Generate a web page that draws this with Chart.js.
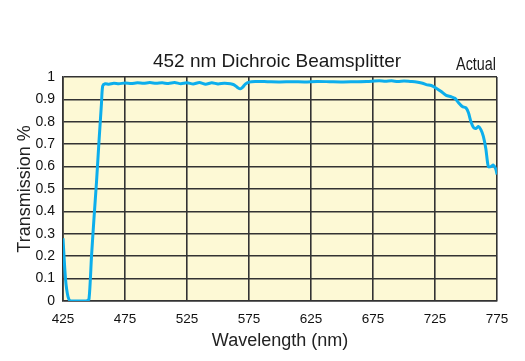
<!DOCTYPE html>
<html><head><meta charset="utf-8">
<script src="https://cdn.jsdelivr.net/npm/chart.js@4/dist/chart.umd.min.js"></script>
<style>html,body{margin:0;padding:0;background:#fff;}canvas{display:block;}</style>
</head><body>
<canvas id="c" width="525" height="361"></canvas>
<script>
const titleText = "452 nm Dichroic Beamsplitter";
const noteText = "Actual";
const xTitle = "Wavelength (nm)";
const yTitle = "Transmission %";
const wavelengths = [425,427,429,431,435,440,444,446,448,450,452,454,456,457,459,462,466,470,475,480,485,490,495,500,505,510,515,520,525,530,535,540,545,550,555,560,563,566,568,570,572,575,580,590,600,610,620,630,640,650,660,670,680,685,690,695,700,705,710,715,718,722,726,730,734,738,741,744,747,750,752,754,756,758,760,762,764,766,768,770,772,774,775];
const transmission = [0.28,0.1,0.02,0,0,0,0,0.01,0.2,0.37,0.53,0.71,0.88,0.96,0.97,0.968,0.972,0.97,0.973,0.971,0.974,0.972,0.975,0.972,0.974,0.971,0.975,0.97,0.974,0.969,0.975,0.968,0.974,0.969,0.972,0.97,0.965,0.952,0.947,0.955,0.968,0.977,0.98,0.979,0.978,0.979,0.978,0.98,0.979,0.978,0.979,0.98,0.983,0.981,0.983,0.98,0.982,0.98,0.978,0.972,0.966,0.962,0.95,0.935,0.918,0.912,0.905,0.885,0.868,0.862,0.84,0.8,0.775,0.77,0.779,0.765,0.735,0.68,0.6,0.6,0.607,0.59,0.565];
const xTicks = [425,475,525,575,625,675,725,775];

const FONT = "'Liberation Sans', Arial, Helvetica, sans-serif";
const bgPlugin = {
  id: 'bg',
  beforeDraw(chart) {
    const {ctx, chartArea: a} = chart;
    ctx.save();
    ctx.fillStyle = '#FDF9D5';
    ctx.fillRect(a.left, a.top, a.right - a.left, a.bottom - a.top);
    ctx.restore();
  },
  afterDraw(chart) {
    const {ctx} = chart;
    ctx.save();
    ctx.fillStyle = '#1a1a1a';
    ctx.textBaseline = 'alphabetic';
    ctx.textAlign = 'center';
    ctx.font = "19px " + FONT;
    ctx.fillText(titleText, 277, 66.5);
    ctx.font = "17.5px " + FONT;
    ctx.translate(496, 69.5);
    ctx.scale(0.82, 1);
    ctx.textAlign = 'right';
    ctx.fillText(noteText, 0, 0);
    ctx.restore();
  }
};

new Chart(document.getElementById('c'), {
  type: 'line',
  data: {
    datasets: [{
      data: wavelengths.map((w, i) => ({x: w, y: transmission[i]})),
      borderColor: '#0CAEEC',
      borderWidth: 3,
      pointRadius: 0,
      tension: 0.25,
      fill: false
    }]
  },
  options: {
    responsive: false,
    animation: false,
    layout: {padding: {left: 0, right: 28, top: 77, bottom: 0}},
    plugins: {legend: {display: false}, tooltip: {enabled: false}, title: {display: false}},
    scales: {
      x: {
        type: 'linear', min: 425, max: 775,
        afterBuildTicks: s => { s.ticks = xTicks.map(v => ({value: v})); },
        afterFit: s => { s.height = 60; },
        grid: {color: '#333', lineWidth: 1.6, drawTicks: false},
        border: {color: '#333', width: 1.6},
        ticks: {color: '#111', font: {size: 13.5, family: FONT}, padding: 10, maxRotation: 0},
        title: {display: true, text: xTitle, color: '#222', font: {size: 18, family: FONT}, padding: {top: 0, bottom: 9}}
      },
      y: {
        min: 0, max: 1,
        afterFit: s => { s.width = 63; },
        grid: {color: '#333', lineWidth: 1.6, drawTicks: false},
        border: {color: '#333', width: 1.6},
        ticks: {stepSize: 0.1, color: '#111', font: {size: 14, family: FONT}, padding: 8,
                callback: v => String(Math.round(v * 10) / 10)},
        title: {display: true, text: yTitle, color: '#222', font: {size: 18, family: FONT}, padding: {top: 14, bottom: 0}}
      }
    }
  },
  plugins: [bgPlugin]
});
</script>
</body></html>
